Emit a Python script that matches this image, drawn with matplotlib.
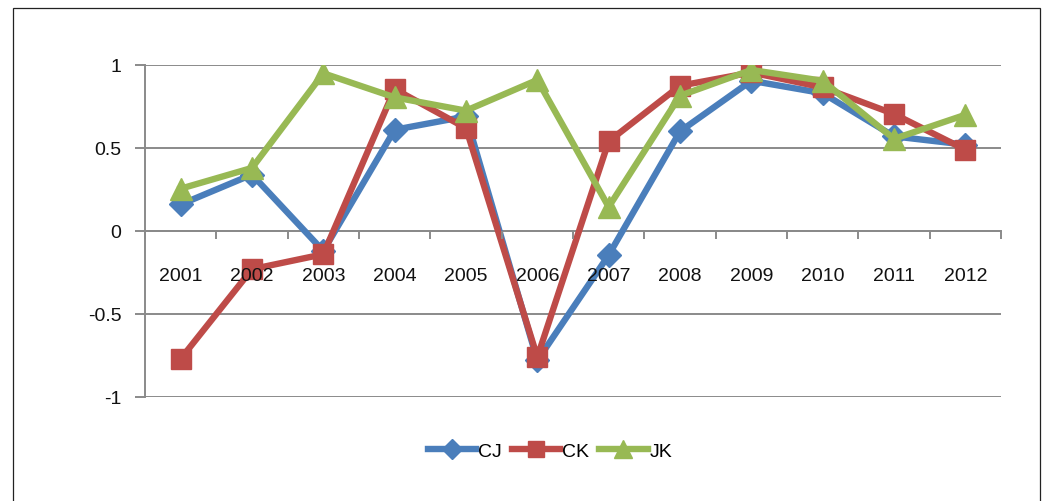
import numpy as np
import matplotlib.pyplot as plt
from matplotlib.patches import Rectangle

years = ['2001', '2002', '2003', '2004', '2005', '2006',
         '2007', '2008', '2009', '2010', '2011', '2012']
cj = [0.16, 0.34, -0.12, 0.61, 0.69, -0.78, -0.145, 0.60, 0.905, 0.83, 0.57, 0.52]
ck = [-0.77, -0.23, -0.14, 0.855, 0.62, -0.76, 0.54, 0.875, 0.955, 0.865, 0.705, 0.49]
jk = [0.255, 0.38, 0.95, 0.805, 0.725, 0.91, 0.145, 0.815, 0.97, 0.905, 0.555, 0.70]

plt.rcParams['font.family'] = ['Liberation Sans', 'DejaVu Sans']

fig = plt.figure(figsize=(10.55, 5.02), dpi=100)
ax = fig.add_axes([145 / 1055, 1 - 398 / 502, (1001 - 145) / 1055, (398 - 66) / 502])

# outer frame
fig.patches.append(Rectangle((13 / 1055, -0.05), (1040 - 13) / 1055, 1 - 9 / 502 + 0.05,
                             transform=fig.transFigure, fill=False,
                             edgecolor='#222222', linewidth=0.9))

x = np.arange(len(years))
ax.plot(x, cj, color='#4A7EBB', lw=4.6, marker='D', ms=12, label='CJ', zorder=3)
ax.plot(x, ck, color='#BE4B48', lw=4.6, marker='s', ms=14, label='CK', zorder=4)
ax.plot(x, jk, color='#98B954', lw=4.6, marker='^', ms=16, label='JK', zorder=5)

ax.set_xlim(-0.5, len(years) - 0.5)
ax.set_ylim(-1, 1)
ax.set_yticks([-1, -0.5, 0, 0.5, 1])
ax.set_yticklabels(['-1', '-0.5', '0', '0.5', '1'])
ax.yaxis.grid(True, color='#8a8a8a', lw=1.4)
ax.set_axisbelow(True)

for s in ['top', 'right']:
    ax.spines[s].set_visible(False)
ax.spines['left'].set_color('#8a8a8a')
ax.spines['left'].set_linewidth(1.4)
ax.spines['bottom'].set_position(('data', 0))
ax.spines['bottom'].set_color('#8a8a8a')
ax.spines['bottom'].set_linewidth(1.4)

ax.set_xticks(x)
ax.set_xticklabels(years)
ax.set_xticks(np.arange(-0.5, len(years)), minor=True)
ax.tick_params(axis='x', which='major', length=0, pad=26, labelsize=14, labelcolor='#111111')
ax.tick_params(axis='x', which='minor', length=6, width=1.4, color='#8a8a8a', direction='out')
ax.tick_params(axis='y', length=7, width=1.4, color='#8a8a8a', pad=10,
               labelsize=14, labelcolor='#111111')
# year labels sit on top of the lines
ax.xaxis.set_zorder(10)

fig.legend(loc='center', bbox_to_anchor=(550 / 1055, 1 - 452 / 502), ncol=3,
           frameon=False, fontsize=14, handlelength=2.5, handletextpad=0.1,
           columnspacing=0.5, markerscale=0.85)

fig.savefig('out.png', dpi=100)
